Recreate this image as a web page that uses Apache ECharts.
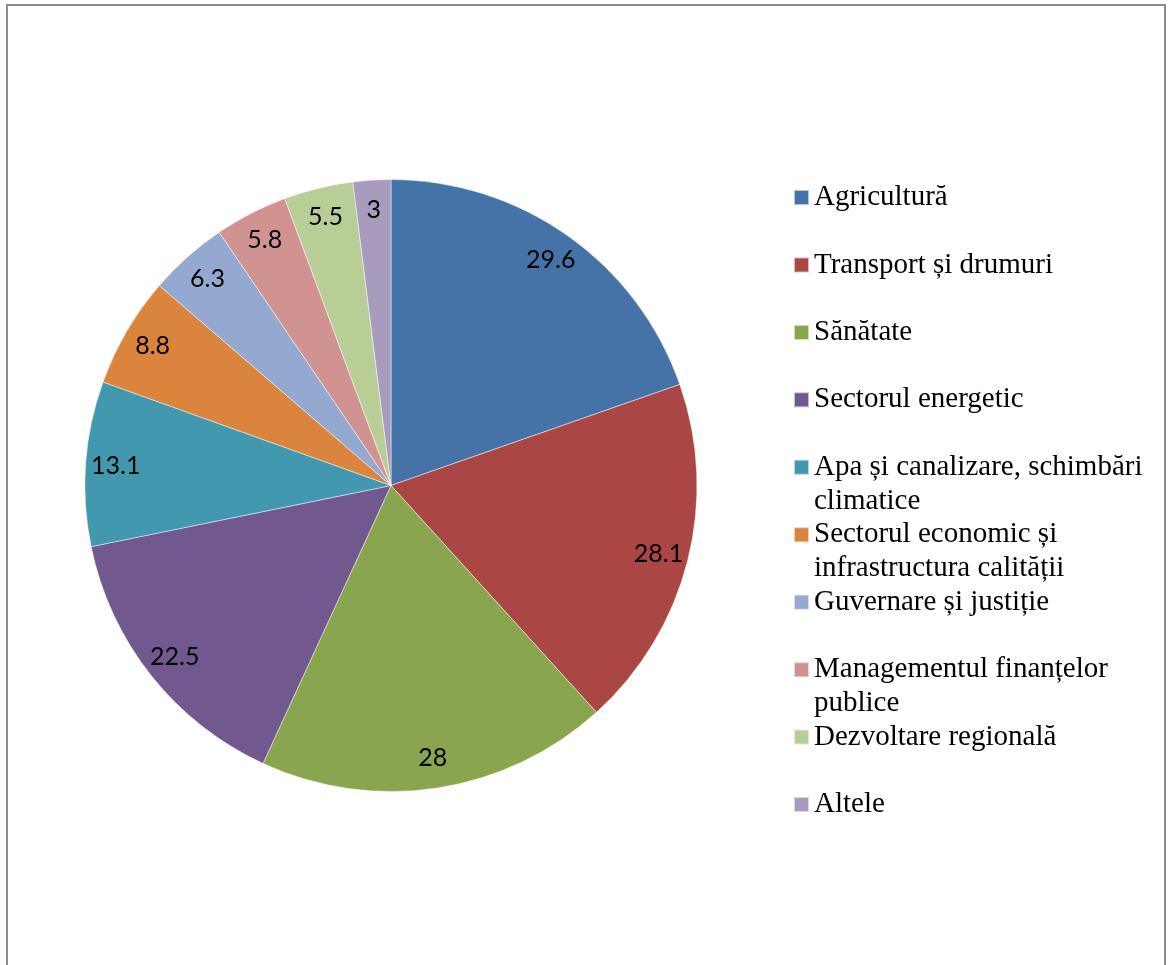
<!DOCTYPE html>
<html>
<head>
<meta charset="utf-8">
<script src="https://cdn.jsdelivr.net/npm/echarts@6/dist/echarts.min.js"></script>
<style>
html,body{margin:0;padding:0;background:#fff;}
#chart{width:1169px;height:965px;}
</style>
</head>
<body>
<div id="chart"></div>
<script>
const categories = [
  'Agricultură',
  'Transport și drumuri',
  'Sănătate',
  'Sectorul energetic',
  'Apa și canalizare, schimbări\nclimatice',
  'Sectorul economic și\ninfrastructura calității',
  'Guvernare și justiție',
  'Managementul finanțelor\npublice',
  'Dezvoltare regională',
  'Altele'
];
const values = [29.6, 28.1, 28, 22.5, 13.1, 8.8, 6.3, 5.8, 5.5, 3];
const colors = ['#4572A7', '#AA4643', '#89A54E', '#71588F', '#4198AF', '#DB843D', '#93A9CF', '#D19392', '#B9CD96', '#A99BBD'];

const chart = echarts.init(document.getElementById('chart'), null, {renderer: 'canvas'});

const lh = 33.7;
const pitch = 67.45;
const firstCenter = 197.5;

const legends = categories.map((name, i) => {
  const twoLine = name.indexOf('\n') >= 0;
  return {
    data: [name],
    orient: 'vertical',
    left: 793,
    top: firstCenter + i * pitch - (twoLine ? 1.5 * lh : 0.5 * lh),
    padding: 0,
    itemGap: 0,
    icon: 'rect',
    itemWidth: 15,
    itemHeight: 15,
    selectedMode: false,
    formatter: n => (n.indexOf('\n') >= 0 ? '\n' + n : n),
    textStyle: {
      fontFamily: 'Liberation Serif',
      fontSize: 29,
      color: '#000',
      lineHeight: lh
    }
  };
});

const pieData = categories.map((n, i) => ({name: n, value: values[i], itemStyle: {color: colors[i]}}));

chart.setOption({
  animation: false,
  backgroundColor: '#fff',
  graphic: [{
    type: 'rect',
    shape: {x: 7, y: 5, width: 1158, height: 1100},
    style: {fill: 'none', stroke: '#8c8c8c', lineWidth: 2},
    silent: true
  }],
  legend: legends,
  series: [{
    type: 'pie',
    center: [391, 485.5],
    radius: [0, 306],
    startAngle: 90,
    clockwise: true,
    avoidLabelOverlap: false,
    label: {show: false},
    labelLine: {show: false},
    emphasis: {disabled: true},
    itemStyle: {borderColor: 'rgba(255,255,255,0.6)', borderWidth: 0.8},
    data: pieData
  }, {
    type: 'pie',
    center: [391, 485.5],
    radius: [240, 306],
    startAngle: 90,
    clockwise: true,
    silent: true,
    avoidLabelOverlap: false,
    emphasis: {disabled: true},
    itemStyle: {color: 'rgba(0,0,0,0)', borderWidth: 0},
    label: {
      show: true,
      position: 'inside',
      formatter: p => String(p.value),
      fontFamily: 'Lato',
      fontSize: 25,
      color: '#000'
    },
    labelLine: {show: false},
    data: categories.map((n, i) => ({name: n, value: values[i]}))
  }]
});
</script>
</body>
</html>
